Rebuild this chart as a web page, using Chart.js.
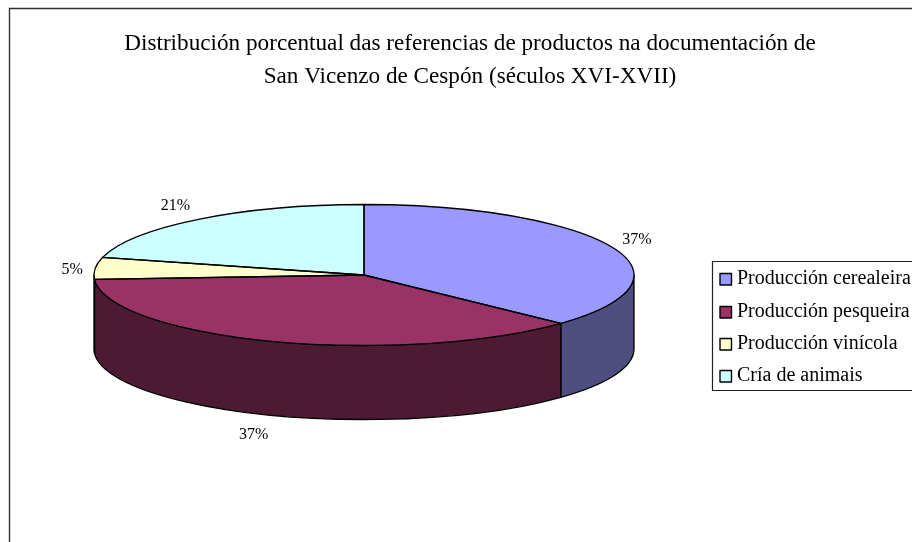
<!DOCTYPE html>
<html>
<head>
<meta charset="utf-8">
<title>Distribución porcentual</title>
<script src="https://cdn.jsdelivr.net/npm/chart.js@4"></script>
<style>
  html, body { margin: 0; padding: 0; background: #fff; overflow: hidden; }
  #wrap { width: 912px; height: 542px; }
</style>
</head>
<body>
<div id="wrap"><canvas id="chart" width="912" height="542"></canvas></div>
<script>
const categories = ['Producción cerealeira', 'Producción pesqueira', 'Producción vinícola', 'Cría de animais'];
const shares = [37, 37, 5, 21];
const topColors = ['#9999FF', '#993366', '#FFFFCC', '#CCFFFF'];
const sideColors = ['#4D4D80', '#4D1A33', '#808066', '#668080'];
const titleLines = [
  'Distribución porcentual das referencias de productos na documentación de',
  'San Vicenzo de Cespón (séculos XVI-XVII)'
];

const SERIF = "'Liberation Serif', 'Times New Roman', serif";

// pie geometry on the page
const PIE = { cx: 364, cy: 275, rx: 270, ry: 70.5, depth: 74 };
// label offset from the rim, per slice
const LABEL_NUDGE = [[25, -7], [-19, 19], [-23, 1], [-23, -13]];
const LEGEND = { x: 712.5, y: 261.5, h: 129, rows: [279, 312, 344, 376] };

const pie3d = {
  id: 'pie3d',
  beforeDraw(chart) {
    const ctx = chart.ctx;
    ctx.save();
    ctx.strokeStyle = '#333';
    ctx.lineWidth = 1.4;
    ctx.beginPath();
    ctx.moveTo(9.5, 542);
    ctx.lineTo(9.5, 8.5);
    ctx.lineTo(912, 8.5);
    ctx.stroke();
    ctx.restore();
  },
  beforeDatasetsDraw(chart) {
    const ctx = chart.ctx;
    const arcs = chart.getDatasetMeta(0).data;

    // side walls, only the part of each slice facing the viewer
    ctx.save();
    ctx.strokeStyle = '#000';
    ctx.lineWidth = 1.3;
    ctx.lineJoin = 'round';
    arcs.forEach((arc, i) => {
      const a0 = Math.max(arc.startAngle, 0);
      const a1 = Math.min(arc.endAngle, Math.PI);
      if (a1 <= a0) return;
      ctx.beginPath();
      ctx.ellipse(PIE.cx, PIE.cy, PIE.rx, PIE.ry, 0, a0, a1);
      ctx.ellipse(PIE.cx, PIE.cy + PIE.depth, PIE.rx, PIE.ry, 0, a1, a0, true);
      ctx.closePath();
      ctx.fillStyle = sideColors[i];
      ctx.fill();
      ctx.stroke();
    });
    ctx.restore();

    // squash the library's arcs into the top ellipse
    const first = arcs[0];
    ctx.save();
    ctx.translate(PIE.cx, PIE.cy);
    ctx.scale(PIE.rx / first.outerRadius, PIE.ry / first.outerRadius);
    ctx.translate(-first.x, -first.y);
  },
  afterDatasetsDraw(chart) {
    const ctx = chart.ctx;
    ctx.restore();
    const arcs = chart.getDatasetMeta(0).data;

    // slice outlines, drawn unsquashed so the pen stays even
    ctx.save();
    ctx.strokeStyle = '#000';
    ctx.lineWidth = 1.3;
    ctx.lineJoin = 'round';
    arcs.forEach(arc => {
      ctx.beginPath();
      ctx.moveTo(PIE.cx, PIE.cy);
      ctx.ellipse(PIE.cx, PIE.cy, PIE.rx, PIE.ry, 0, arc.startAngle, arc.endAngle);
      ctx.closePath();
      ctx.stroke();
    });

    // percentage labels
    ctx.fillStyle = '#000';
    ctx.font = '16px ' + SERIF;
    ctx.textAlign = 'center';
    ctx.textBaseline = 'middle';
    arcs.forEach((arc, i) => {
      const mid = (arc.startAngle + arc.endAngle) / 2;
      const front = Math.sin(mid) > 0.5 ? PIE.depth : 0;
      const x = PIE.cx + PIE.rx * Math.cos(mid) + LABEL_NUDGE[i][0];
      const y = PIE.cy + PIE.ry * Math.sin(mid) + front + LABEL_NUDGE[i][1];
      ctx.fillText(shares[i] + '%', x, y);
    });

    // legend
    ctx.strokeStyle = '#222';
    ctx.lineWidth = 1.2;
    ctx.beginPath();
    ctx.moveTo(912, LEGEND.y);
    ctx.lineTo(LEGEND.x, LEGEND.y);
    ctx.lineTo(LEGEND.x, LEGEND.y + LEGEND.h);
    ctx.lineTo(912, LEGEND.y + LEGEND.h);
    ctx.stroke();
    ctx.textAlign = 'left';
    ctx.textBaseline = 'alphabetic';
    ctx.font = '20px ' + SERIF;
    chart.data.labels.forEach((label, i) => {
      const y = LEGEND.rows[i];
      ctx.fillStyle = topColors[i];
      ctx.fillRect(720, y - 5.5, 11.5, 11.5);
      ctx.lineWidth = 1.4;
      ctx.strokeStyle = '#000';
      ctx.strokeRect(720, y - 5.5, 11.5, 11.5);
      ctx.fillStyle = '#000';
      ctx.fillText(label, 737, y + 5);
    });
    ctx.restore();
  }
};

new Chart(document.getElementById('chart'), {
  type: 'pie',
  data: {
    labels: categories,
    datasets: [{ data: shares, backgroundColor: topColors, borderWidth: 0 }]
  },
  options: {
    responsive: false,
    animation: false,
    layout: { padding: { left: 28, top: 0 } },
    plugins: {
      legend: { display: false },
      tooltip: { enabled: false },
      title: {
        display: true,
        text: titleLines,
        color: '#000',
        font: { family: SERIF, size: 23.2, weight: 'normal', lineHeight: 1.42 },
        padding: { top: 27, bottom: 10 }
      }
    }
  },
  plugins: [pie3d]
});
</script>
</body>
</html>
